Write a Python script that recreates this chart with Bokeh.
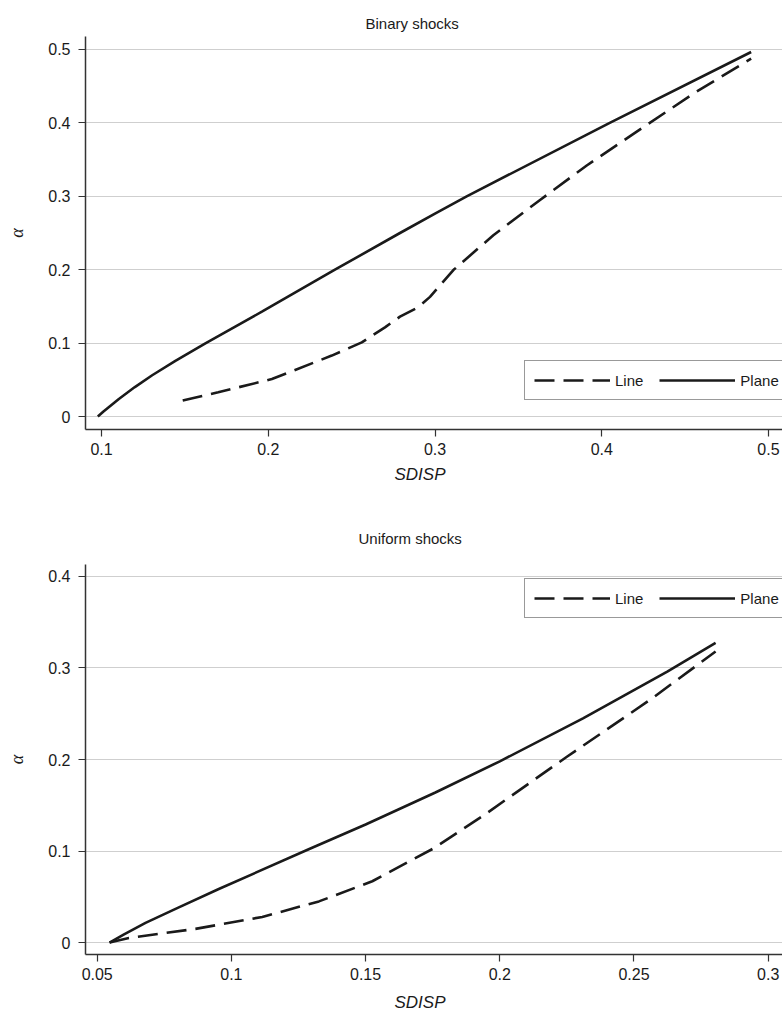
from bokeh.plotting import figure
from bokeh.layouts import column
from bokeh.models import FixedTicker, Legend, LegendItem, Title, Range1d
from bokeh.embed import file_html
from bokeh.resources import INLINE

# Binary shocks: SDISP vs alpha
binary_plane_x = [0.0978, 0.1010, 0.1104, 0.1200, 0.1304, 0.1443, 0.1623, 0.1962, 0.240, 0.279, 0.300, 0.319, 0.4048, 0.4896]
binary_plane_y = [0.000, 0.0064, 0.0238, 0.0401, 0.0562, 0.0759, 0.0997, 0.1428, 0.200, 0.250, 0.2765, 0.300, 0.400, 0.4966]
binary_line_x = [0.1487, 0.170, 0.2022, 0.2381, 0.2561, 0.270, 0.279, 0.290, 0.297, 0.311, 0.335, 0.363, 0.391, 0.419, 0.455, 0.4896]
binary_line_y = [0.0218, 0.033, 0.051, 0.083, 0.101, 0.1215, 0.136, 0.149, 0.163, 0.1995, 0.247, 0.295, 0.342, 0.385, 0.440, 0.4875]

# Uniform shocks: SDISP vs alpha
uniform_plane_x = [0.0546, 0.060, 0.068, 0.080, 0.0953, 0.1288, 0.150, 0.176, 0.200, 0.231, 0.2624, 0.2804]
uniform_plane_y = [0.000, 0.009, 0.0215, 0.038, 0.0585, 0.102, 0.129, 0.164, 0.198, 0.245, 0.296, 0.3275]
uniform_line_x = [0.0546, 0.0618, 0.0866, 0.1115, 0.1326, 0.1525, 0.1754, 0.194, 0.225, 0.2561, 0.2804]
uniform_line_y = [0.000, 0.0050, 0.0150, 0.0280, 0.0450, 0.0670, 0.1030, 0.1390, 0.2030, 0.2654, 0.318]

binary_xticks = [0.1, 0.2, 0.3, 0.4, 0.5]
binary_xlabels = ["0.1", "0.2", "0.3", "0.4", "0.5"]
binary_yticks = [0, 0.1, 0.2, 0.3, 0.4, 0.5]
binary_ylabels = ["0", "0.1", "0.2", "0.3", "0.4", "0.5"]

uniform_xticks = [0.05, 0.1, 0.15, 0.2, 0.25, 0.3]
uniform_xlabels = ["0.05", "0.1", "0.15", "0.2", "0.25", "0.3"]
uniform_yticks = [0, 0.1, 0.2, 0.3, 0.4]
uniform_ylabels = ["0", "0.1", "0.2", "0.3", "0.4"]

series_names = ["Line", "Plane"]

FONT = "Liberation Sans"
INK = "#1a1a1a"


def panel(title, xr, yr, xt, xl, yt, yl, px, py, lx, ly, h, top, bottom,
          legend_y, title_standoff, title_offset, xlab_standoff):
    p = figure(width=782, height=h, output_backend="svg", toolbar_location=None,
               x_range=Range1d(*xr), y_range=Range1d(*yr),
               min_border_left=85, min_border_right=0,
               min_border_top=top, min_border_bottom=bottom)
    p.outline_line_color = None
    p.background_fill_color = "white"
    p.border_fill_color = "white"

    t = Title(text=title, align="left", offset=title_offset, standoff=title_standoff,
              text_font=FONT, text_font_size="15px", text_font_style="normal",
              text_color=INK)
    p.add_layout(t, "above")

    xlab = Title(text="SDISP", align="left", offset=309, standoff=xlab_standoff,
                 text_font=FONT, text_font_size="17px", text_font_style="italic",
                 text_color=INK)
    p.add_layout(xlab, "below")

    p.xaxis.ticker = FixedTicker(ticks=xt)
    p.xaxis.major_label_overrides = {v: s for v, s in zip(xt, xl)}
    p.yaxis.ticker = FixedTicker(ticks=yt)
    p.yaxis.major_label_overrides = {v: s for v, s in zip(yt, yl)}
    p.xaxis.minor_tick_line_color = None
    p.yaxis.minor_tick_line_color = None
    for ax in (p.xaxis, p.yaxis):
        ax.axis_line_color = "#333333"
        ax.axis_line_width = 1.5
        ax.major_tick_line_color = "#333333"
        ax.major_tick_line_width = 1.2
        ax.major_tick_out = 7
        ax.major_tick_in = 0
        ax.major_label_text_font = FONT
        ax.major_label_text_font_size = "16px"
        ax.major_label_text_color = INK
    p.xaxis.major_label_standoff = 6
    p.yaxis.major_label_standoff = 8
    p.yaxis.axis_label = "α"
    p.yaxis.axis_label_text_font = "Liberation Serif"
    p.yaxis.axis_label_text_font_style = "italic"
    p.yaxis.axis_label_text_font_size = "18px"
    p.yaxis.axis_label_text_color = INK
    p.yaxis.axis_label_standoff = 18

    p.xgrid.grid_line_color = None
    p.ygrid.ticker = FixedTicker(ticks=yt)
    p.ygrid.grid_line_color = "#cfcfcf"
    p.ygrid.grid_line_width = 1.2

    r_line = p.line(lx, ly, line_color=INK, line_width=2.6, line_dash="20 9")
    r_plane = p.line(px, py, line_color=INK, line_width=2.6)

    legend = Legend(items=[LegendItem(label=series_names[0], renderers=[r_line]),
                           LegendItem(label=series_names[1], renderers=[r_plane])],
                    orientation="horizontal", location=(439, legend_y),
                    glyph_width=76, glyph_height=20, label_height=20,
                    label_standoff=5, spacing=16, padding=9, margin=0,
                    label_text_font=FONT, label_text_font_size="15px",
                    label_text_color=INK,
                    border_line_color="#333333", border_line_width=1.2,
                    background_fill_color="white", background_fill_alpha=1.0)
    p.add_layout(legend, "center")
    return p


p1 = panel("Binary shocks", (0.0904, 0.5084), (-0.0177, 0.5177),
           binary_xticks, binary_xlabels, binary_yticks, binary_ylabels,
           binary_plane_x, binary_plane_y, binary_line_x, binary_line_y,
           h=509, top=36, bottom=80, legend_y=29, title_standoff=10,
           title_offset=280, xlab_standoff=10)
p2 = panel("Uniform shocks", (0.04564, 0.30533), (-0.013, 0.413),
           uniform_xticks, uniform_xlabels, uniform_yticks, uniform_ylabels,
           uniform_plane_x, uniform_plane_y, uniform_line_x, uniform_line_y,
           h=510, top=55, bottom=63, legend_y=336, title_standoff=36,
           title_offset=273, xlab_standoff=16)

layout = column(p1, p2, spacing=0)
open("out.html", "w").write(file_html(layout, INLINE))
